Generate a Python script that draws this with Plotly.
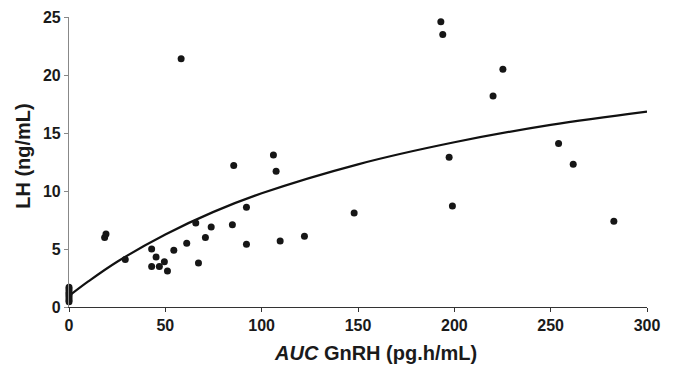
import plotly.graph_objects as go

# Observed points: AUC GnRH (pg.h/mL) vs LH (ng/mL)
auc_gnrh = [0, 0, 0, 0, 0, 0, 0, 0,
            18.5, 19.2, 29.2, 42.9, 42.9, 45.2, 46.9, 49.5, 51.1, 54.4,
            58.2, 61.1, 65.8, 67.2, 70.8, 73.8, 84.8, 85.5, 92.1, 92.1,
            106.1, 107.5, 109.6, 122.2, 148.0, 193.0, 194.0, 197.3, 199.0,
            220.1, 225.2, 254.1, 261.7, 282.8]
lh = [0.45, 0.6, 0.8, 1.0, 1.15, 1.3, 1.5, 1.7,
      6.0, 6.3, 4.1, 5.0, 3.5, 4.3, 3.5, 3.9, 3.1, 4.9,
      21.4, 5.5, 7.25, 3.8, 6.0, 6.9, 7.1, 12.2, 8.6, 5.4,
      13.1, 11.7, 5.7, 6.1, 8.1, 24.6, 23.5, 12.9, 8.7,
      18.2, 20.5, 14.1, 12.3, 7.4]

# Fitted curve
curve_x = [0, 10, 25, 50, 75, 100, 150, 200, 250, 300]
curve_y = [0.95, 2.2, 3.9, 6.25, 8.2, 9.8, 12.3, 14.2, 15.7, 16.85]

x_ticks = [0, 50, 100, 150, 200, 250, 300]
y_ticks = [0, 5, 10, 15, 20, 25]

FONT = "Liberation Sans, Arial, sans-serif"

# page has an 8px body margin; size the figure so the plot lands where the reference has it
OFF = 8
W, H = 675 - OFF, 369 - OFF
L, T = 69 - OFF, 16.7 - OFF
R = W - (646.7 - OFF)
B = H - (306.7 - OFF)

fig = go.Figure()
fig.add_trace(go.Scatter(x=curve_x, y=curve_y, mode="lines",
                         line=dict(color="#111111", width=2.2, shape="spline"),
                         hoverinfo="skip", showlegend=False))
fig.add_trace(go.Scatter(x=auc_gnrh, y=lh, mode="markers",
                         marker=dict(color="#161616", size=7),
                         cliponaxis=False, showlegend=False))

fig.update_layout(
    width=W, height=H,
    margin=dict(l=L, r=R, t=T, b=B, autoexpand=False),
    paper_bgcolor="white", plot_bgcolor="white",
    font=dict(family=FONT, size=16, color="#1a1a1a"),
    xaxis=dict(range=[0, 300], tickvals=x_ticks,
               ticktext=["<b>%d</b>" % v for v in x_ticks],
               showgrid=False, zeroline=False, showline=True, linecolor="#333333",
               linewidth=1.2, ticks="outside", ticklen=4, tickcolor="#333333",
               tickfont=dict(family=FONT, size=16, color="#1a1a1a"),
               fixedrange=True, automargin=False),
    yaxis=dict(range=[0, 25], tickvals=y_ticks,
               ticktext=["<b>%d</b>" % v for v in y_ticks],
               showgrid=False, zeroline=False, showline=True, linecolor="#888888",
               linewidth=1.2, ticks="outside", ticklen=4, tickcolor="#888888",
               tickfont=dict(family=FONT, size=16, color="#1a1a1a"),
               fixedrange=True, automargin=False),
    annotations=[
        dict(text="<b><i>AUC</i> GnRH (pg.h/mL)</b>", xref="paper", yref="paper",
             x=(375.4 - 69) / (646.7 - 69), y=0, yshift=-46,
             xanchor="center", yanchor="middle", showarrow=False,
             font=dict(family=FONT, size=20, color="#1a1a1a")),
        dict(text="<b>LH (ng/mL)</b>", xref="paper", yref="paper",
             x=0, xshift=-46, y=(306.7 - 155.5) / (306.7 - 16.7),
             xanchor="center", yanchor="middle", textangle=-90, showarrow=False,
             font=dict(family=FONT, size=20, color="#1a1a1a")),
    ],
)

fig.write_html("out.html")
